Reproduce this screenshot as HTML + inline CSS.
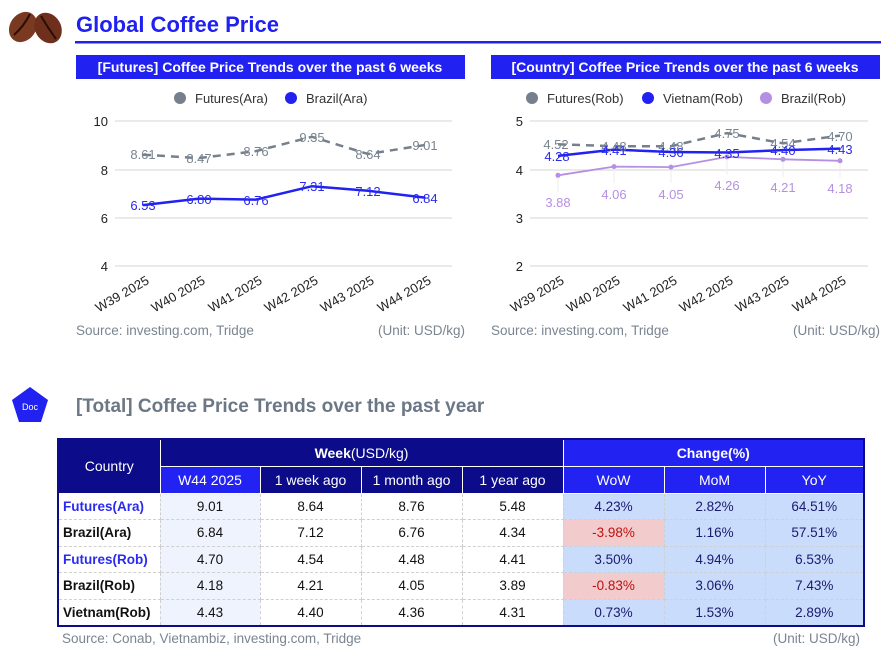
<!DOCTYPE html>
<html><head><meta charset="utf-8"><style>
body{margin:0;width:894px;height:664px;background:#fff;font-family:"Liberation Sans",sans-serif;position:relative;overflow:hidden}
.abs{position:absolute}
table{border-collapse:collapse;position:absolute;left:57px;top:438px;width:808px;font-size:13.5px;table-layout:fixed;border:2px solid #0c0c8a}
td{text-align:center;border:1px dashed #d0d0d0;height:25.5px;padding:0;color:#111}
th{color:#fff;font-weight:normal;font-size:14px;padding:0;border:1px solid #fff}
.nv{background:#0c0c8a}.bb{background:#2222f2}
.c{background:#c9dcfb;color:#1a1a6e}.r{background:#f2cccc;color:#c01010}.w{background:#eef3fd}
.nm{text-align:left;padding-left:4px;font-weight:bold}
.bl{color:#2b2bf0}
</style></head><body>
<svg class="abs" style="left:0;top:0" width="894" height="664">
<ellipse cx="23" cy="27" rx="13" ry="16" fill="#7a3a22" transform="rotate(35 23 27)"/>
<ellipse cx="48" cy="28" rx="13" ry="16" fill="#6e301c" transform="rotate(-30 48 28)"/>
<path d="M14 35 Q24 26 30 14" stroke="#2a0e06" stroke-width="2" fill="none"/>
<path d="M41 16 Q48 28 56 39" stroke="#2a0e06" stroke-width="2" fill="none"/>
<text x="76" y="32" font-size="22" font-weight="bold" fill="#2020f0">Global Coffee Price</text>
<rect x="75" y="41" width="806" height="2.5" fill="#2020f0"/>
<rect x="76" y="55" width="389" height="24" fill="#2121f2"/>
<text x="270" y="72" font-size="14" font-weight="bold" fill="#fff" text-anchor="middle">[Futures] Coffee Price Trends over the past 6 weeks</text>
<rect x="491" y="55" width="389" height="24" fill="#2121f2"/>
<text x="685" y="72" font-size="14" font-weight="bold" fill="#fff" text-anchor="middle">[Country] Coffee Price Trends over the past 6 weeks</text>
<g font-size="13" fill="#333">
<circle cx="180" cy="98" r="6" fill="#76808c"/><text x="195" y="103">Futures(Ara)</text>
<circle cx="291" cy="98" r="6" fill="#2121f2"/><text x="306" y="103">Brazil(Ara)</text>
<circle cx="532" cy="98" r="6" fill="#76808c"/><text x="547" y="103">Futures(Rob)</text>
<circle cx="648" cy="98" r="6" fill="#2121f2"/><text x="663" y="103">Vietnam(Rob)</text>
<circle cx="766" cy="98" r="6" fill="#b590e2"/><text x="781" y="103">Brazil(Rob)</text>
</g>
<g stroke="#d4d4d4" stroke-width="1">
<line x1="115" x2="452" y1="121" y2="121"/><line x1="115" x2="452" y1="170" y2="170"/><line x1="115" x2="452" y1="218" y2="218"/><line x1="115" x2="452" y1="266" y2="266"/>
<line x1="530" x2="868" y1="121" y2="121"/><line x1="530" x2="868" y1="170" y2="170"/><line x1="530" x2="868" y1="218" y2="218"/><line x1="530" x2="868" y1="266" y2="266"/>
</g>
<g font-size="13" fill="#222" text-anchor="end">
<text x="108" y="126">10</text><text x="108" y="175">8</text><text x="108" y="223">6</text><text x="108" y="271">4</text>
<text x="523" y="126">5</text><text x="523" y="175">4</text><text x="523" y="223">3</text><text x="523" y="271">2</text>
</g>
<polyline points="143,154.7 199,158.1 256,151.1 312,136.8 368,154 425,145" fill="none" stroke="#76808c" stroke-width="2.5" stroke-dasharray="8,6"/>
<polyline points="143,205.1 199,198.6 256,199.6 312,186.2 368,190.8 425,197.6" fill="none" stroke="#2121f2" stroke-width="2.5"/>
<g font-size="13" text-anchor="middle" fill="#7a8591">
<text x="143" y="159">8.61</text><text x="199" y="163">8.47</text><text x="256" y="156">8.76</text><text x="312" y="142">9.35</text><text x="368" y="159">8.64</text><text x="425" y="150">9.01</text>
</g>
<g font-size="13" text-anchor="middle" fill="#2b2bf0">
<text x="143" y="210">6.53</text><text x="199" y="204">6.80</text><text x="256" y="205">6.76</text><text x="312" y="191">7.31</text><text x="368" y="196">7.12</text><text x="425" y="203">6.84</text>
</g>
<g stroke="#eee" stroke-width="1"><line x1="558" x2="558" y1="177" y2="192"/><line x1="614" x2="614" y1="168" y2="183"/><line x1="671" x2="671" y1="168" y2="183"/><line x1="727" x2="727" y1="158" y2="175"/><line x1="783" x2="783" y1="160" y2="177"/><line x1="840" x2="840" y1="162" y2="178"/></g>
<polyline points="558,144.3 614,146.2 671,146.2 727,133.1 783,143.3 840,135.6" fill="none" stroke="#76808c" stroke-width="2.5" stroke-dasharray="8,6"/>
<polyline points="558,175.3 614,166.6 671,167.1 727,156.9 783,159.3 840,160.8" fill="none" stroke="#b590e2" stroke-width="1.8"/>
<g fill="#b590e2"><circle cx="558" cy="175.3" r="2.5"/><circle cx="614" cy="166.6" r="2.5"/><circle cx="671" cy="167.1" r="2.5"/><circle cx="727" cy="156.9" r="2.5"/><circle cx="783" cy="159.3" r="2.5"/><circle cx="840" cy="160.8" r="2.5"/></g>
<polyline points="558,155.9 614,149.6 671,152 727,152.5 783,150.1 840,148.6" fill="none" stroke="#2121f2" stroke-width="2.5"/>
<g font-size="13" text-anchor="middle" fill="#7a8591">
<text x="556" y="149">4.52</text><text x="614" y="151">4.48</text><text x="671" y="151">4.48</text><text x="727" y="138">4.75</text><text x="783" y="148">4.54</text><text x="840" y="141">4.70</text>
</g>
<g font-size="13" text-anchor="middle" fill="#2b2bf0">
<text x="557" y="161">4.28</text><text x="614" y="155">4.41</text><text x="671" y="157">4.36</text><text x="727" y="158">4.35</text><text x="783" y="155">4.40</text><text x="840" y="154">4.43</text>
</g>
<g font-size="13" text-anchor="middle" fill="#b590e2">
<text x="558" y="207">3.88</text><text x="614" y="199">4.06</text><text x="671" y="199">4.05</text><text x="727" y="190">4.26</text><text x="783" y="192">4.21</text><text x="840" y="193">4.18</text>
</g>
<g font-size="13" fill="#222" text-anchor="end">
<text transform="translate(150,283) rotate(-30)">W39 2025</text><text transform="translate(206,283) rotate(-30)">W40 2025</text><text transform="translate(263,283) rotate(-30)">W41 2025</text><text transform="translate(319,283) rotate(-30)">W42 2025</text><text transform="translate(375,283) rotate(-30)">W43 2025</text><text transform="translate(432,283) rotate(-30)">W44 2025</text>
<text transform="translate(565,283) rotate(-30)">W39 2025</text><text transform="translate(621,283) rotate(-30)">W40 2025</text><text transform="translate(678,283) rotate(-30)">W41 2025</text><text transform="translate(734,283) rotate(-30)">W42 2025</text><text transform="translate(790,283) rotate(-30)">W43 2025</text><text transform="translate(847,283) rotate(-30)">W44 2025</text>
</g>
<g font-size="13.5" fill="#7a8591">
<text x="76" y="335">Source: investing.com, Tridge</text><text x="465" y="335" text-anchor="end">(Unit: USD/kg)</text>
<text x="491" y="335">Source: investing.com, Tridge</text><text x="880" y="335" text-anchor="end">(Unit: USD/kg)</text>
<text x="62" y="643">Source: Conab, Vietnambiz, investing.com, Tridge</text><text x="860" y="643" text-anchor="end">(Unit: USD/kg)</text>
</g>
<polygon points="30,387 48,400 41,422 19,422 12,400" fill="#2121f2"/>
<text x="30" y="410" font-size="9" fill="#fff" text-anchor="middle">Doc</text>
<text x="76" y="412" font-size="19" font-weight="bold" fill="#6b7785">[Total] Coffee Price Trends over the past year</text>
</svg>
<table>
<colgroup><col style="width:102px"><col style="width:100px"><col style="width:101px"><col style="width:101px"><col style="width:101px"><col style="width:101px"><col style="width:101px"><col></colgroup>
<tr style="height:27px"><th class="nv" rowspan="2">Country</th><th class="nv" colspan="4"><b>Week</b>(USD/kg)</th><th class="bb" colspan="3"><b>Change(%)</b></th></tr>
<tr style="height:27px"><th class="bb">W44 2025</th><th class="nv">1 week ago</th><th class="nv">1 month ago</th><th class="nv">1 year ago</th><th class="bb">WoW</th><th class="bb">MoM</th><th class="bb">YoY</th></tr>
<tr><td class="nm bl">Futures(Ara)</td><td class="w">9.01</td><td>8.64</td><td>8.76</td><td>5.48</td><td class="c">4.23%</td><td class="c">2.82%</td><td class="c">64.51%</td></tr>
<tr><td class="nm">Brazil(Ara)</td><td class="w">6.84</td><td>7.12</td><td>6.76</td><td>4.34</td><td class="r">-3.98%</td><td class="c">1.16%</td><td class="c">57.51%</td></tr>
<tr><td class="nm bl">Futures(Rob)</td><td class="w">4.70</td><td>4.54</td><td>4.48</td><td>4.41</td><td class="c">3.50%</td><td class="c">4.94%</td><td class="c">6.53%</td></tr>
<tr><td class="nm">Brazil(Rob)</td><td class="w">4.18</td><td>4.21</td><td>4.05</td><td>3.89</td><td class="r">-0.83%</td><td class="c">3.06%</td><td class="c">7.43%</td></tr>
<tr><td class="nm">Vietnam(Rob)</td><td class="w">4.43</td><td>4.40</td><td>4.36</td><td>4.31</td><td class="c">0.73%</td><td class="c">1.53%</td><td class="c">2.89%</td></tr>
</table>
</body></html>
